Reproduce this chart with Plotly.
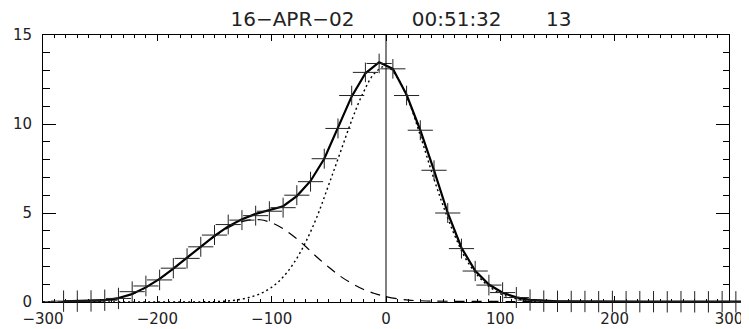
import plotly.graph_objects as go

# ---------------- data ----------------
bin_centers = [-282, -270, -258, -246, -234, -222, -210, -198, -186, -174,
               -162, -150, -138, -126, -114, -102, -90, -78, -66, -54,
               -42, -30, -18, -6, 6, 18, 30, 42, 54, 66,
               78, 90, 102, 114, 126, 138, 150, 162, 174, 186,
               198, 210, 222, 234, 246, 258, 270, 282, 294, 306, 318]

counts = [0.05, 0.05, 0.06, 0.10, 0.20, 0.58, 0.90, 1.24, 1.90, 2.45,
          3.10, 3.76, 4.35, 4.60, 4.85, 5.10, 5.30, 6.00, 6.76, 8.05,
          9.75, 11.60, 12.90, 13.40, 13.10, 11.60, 9.65, 7.40, 5.00, 3.00,
          1.74, 0.95, 0.53, 0.25, 0.11, 0.05, 0.04, 0.03, 0.03, 0.02,
          0.03, 0.02, 0.02, 0.02, 0.01, 0.02, 0.01, 0.01, 0.02, 0.01, 0.01]

count_err = [0.60, 0.60, 0.60, 0.60, 0.60, 0.58, 0.58, 0.58, 0.57, 0.57,
             0.56, 0.56, 0.56, 0.56, 0.56, 0.56, 0.56, 0.56, 0.56, 0.56,
             0.56, 0.55, 0.55, 0.55, 0.55, 0.55, 0.56, 0.56, 0.56, 0.56,
             0.57, 0.58, 0.58, 0.59, 0.60, 0.60, 0.60, 0.60, 0.60, 0.60,
             0.60, 0.60, 0.60, 0.60, 0.60, 0.60, 0.60, 0.60, 0.60, 0.60, 0.60]

bin_half_width = 11

fit_total = [0.03, 0.04, 0.06, 0.10, 0.22, 0.45, 0.82, 1.30, 1.88, 2.50,
             3.12, 3.72, 4.25, 4.65, 4.95, 5.15, 5.38, 5.95, 6.80, 8.05,
             9.75, 11.55, 12.85, 13.47, 13.10, 11.65, 9.65, 7.40, 5.00, 3.05,
             1.75, 0.98, 0.52, 0.26, 0.12, 0.06, 0.04, 0.03, 0.02, 0.02,
             0.02, 0.02, 0.02, 0.02, 0.02, 0.02, 0.02, 0.02, 0.02, 0.02, 0.02]

main_x = [-300, -200, -160, -150, -140, -130, -120, -110, -100, -90,
          -80, -70, -60, -50, -40, -30, -20, -10, 0, 10,
          20, 30, 40, 50, 60, 70, 80, 90, 100, 110,
          120, 130, 140, 160, 300]
main_component = [0.0, 0.0, 0.01, 0.02, 0.05, 0.12, 0.25, 0.47, 0.83, 1.40,
                  2.25, 3.40, 4.85, 6.60, 8.40, 10.20, 11.75, 12.85, 13.25, 12.60,
                  11.25, 9.35, 7.30, 5.40, 3.75, 2.40, 1.50, 0.88, 0.47, 0.24,
                  0.11, 0.05, 0.02, 0.0, 0.0]

second_x = [-300, -280, -260, -240, -230, -220, -210, -200, -190, -180,
            -170, -160, -150, -140, -130, -120, -110, -100, -90, -80,
            -70, -60, -50, -40, -30, -20, -10, 0, 10, 20,
            30, 40, 60, 80, 100, 130]
second_component = [0.0, 0.02, 0.05, 0.13, 0.26, 0.50, 0.82, 1.22, 1.68, 2.18,
                    2.70, 3.20, 3.68, 4.10, 4.42, 4.60, 4.62, 4.45, 4.12, 3.65,
                    3.10, 2.50, 1.95, 1.45, 1.05, 0.72, 0.48, 0.30, 0.18, 0.10,
                    0.07, 0.05, 0.04, 0.04, 0.03, 0.02]

title_text = ("16\u2212APR\u221202" + "\u00a0" * 9 + "00:51:32" + "\u00a0" * 7 + "13")

# ---------------- geometry (pixels of the figure) ----------------
# the page places the figure 8 px in from the window's top-left corner,
# so the frame is laid out 8 px up/left of where it should appear.
W, H = 749, 329
SHIFT = 8
L, R, T, B = 43 - SHIFT, 729 - SHIFT, 35 - SHIFT, 302 - SHIFT
X_RANGE = [-300, 300]
Y_RANGE = [0, 15]

# full-figure axes so the error crosses can run past the frame (as in the original)
xs = (X_RANGE[1] - X_RANGE[0]) / (R - L)
ys = (Y_RANGE[1] - Y_RANGE[0]) / (B - T)
X2_RANGE = [X_RANGE[0] - L * xs, X_RANGE[1] + (W - R) * xs]
Y2_RANGE = [Y_RANGE[0] - (H - B) * ys, Y_RANGE[1] + T * ys]

fig = go.Figure()

fig.add_trace(go.Scatter(
    x=main_x, y=main_component, mode="lines",
    line=dict(color="black", width=1.4, dash="2px,3px", shape="spline"),
    showlegend=False, hoverinfo="skip"))

fig.add_trace(go.Scatter(
    x=second_x, y=second_component, mode="lines",
    line=dict(color="black", width=1.2, dash="10px,7px", shape="spline"),
    showlegend=False, hoverinfo="skip"))

fig.add_trace(go.Scatter(
    x=bin_centers, y=fit_total, mode="lines",
    line=dict(color="black", width=2.2),
    xaxis="x2", yaxis="y2",
    showlegend=False, hoverinfo="skip"))

fig.add_trace(go.Scatter(
    x=bin_centers, y=counts, mode="markers",
    marker=dict(size=1, color="rgba(0,0,0,0)"),
    error_x=dict(type="constant", value=bin_half_width, width=0,
                 thickness=1, color="#222"),
    error_y=dict(type="data", array=count_err, width=0,
                 thickness=1, color="#222"),
    xaxis="x2", yaxis="y2",
    cliponaxis=False, showlegend=False))

fig.add_vline(x=0, line=dict(color="black", width=1))

axis_font = dict(family="DejaVu Sans", size=15, color="#222")

fig.update_layout(
    width=W, height=H,
    margin=dict(l=0, r=0, t=0, b=0, pad=0, autoexpand=False),
    paper_bgcolor="white", plot_bgcolor="rgba(0,0,0,0)",
    title=dict(text=title_text, x=(401 - SHIFT) / W, xref="paper", xanchor="center",
               y=1 - (19 - SHIFT) / H, yref="container", yanchor="middle",
               automargin=False,
               font=dict(family="DejaVu Sans", size=20, color="#222")),
    xaxis=dict(domain=[L / W, R / W], range=X_RANGE, dtick=100, tick0=0,
               automargin=False,
               ticks="inside", ticklen=6, tickwidth=1, tickcolor="black",
               showline=True, linecolor="black", linewidth=1, mirror="ticks",
               showgrid=False, zeroline=False, tickfont=axis_font,
               ticklabelstandoff=3,
               minor=dict(ticks="inside", ticklen=3, dtick=10,
                          tickcolor="black", tickwidth=1, showgrid=False)),
    yaxis=dict(domain=[1 - B / H, 1 - T / H], range=Y_RANGE, dtick=5, tick0=0,
               automargin=False,
               ticks="inside", ticklen=13, tickwidth=1, tickcolor="black",
               showline=True, linecolor="black", linewidth=1, mirror="ticks",
               showgrid=False, zeroline=False, tickfont=axis_font,
               ticklabelstandoff=7,
               minor=dict(ticks="inside", ticklen=6.5, dtick=1,
                          tickcolor="black", tickwidth=1, showgrid=False)),
    xaxis2=dict(domain=[0, 1], range=X2_RANGE, anchor="y2", visible=False,
                automargin=False, showgrid=False, zeroline=False),
    yaxis2=dict(domain=[0, 1], range=Y2_RANGE, anchor="x2", visible=False,
                automargin=False, showgrid=False, zeroline=False),
)

fig.write_html("out.html")
